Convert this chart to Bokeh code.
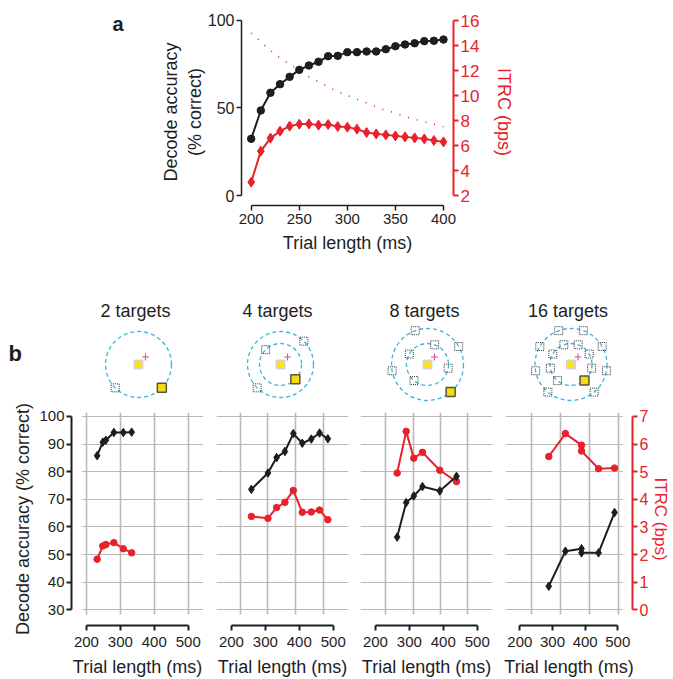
import math
from bokeh.plotting import figure
from bokeh.models import Range1d, LinearAxis, FixedTicker, BoxAnnotation
from bokeh.layouts import column, row
from bokeh.embed import file_html
from bokeh.resources import INLINE
from bokeh.core.properties import value

FONT = "Liberation Sans"
RED = "#e8212b"
INK = "#1e1e1e"
GRID = "#b9b9b9"
CYAN = "#36b6d8"

# ---------------- panel a data ----------------
a_trial_ms = [200, 210, 220, 230, 240, 250, 260, 270, 280, 290, 300,
              310, 320, 330, 340, 350, 360, 370, 380, 390, 400]
a_accuracy = [32.4, 48.6, 58.7, 63.6, 67.8, 71.8, 74.3, 76.4, 79.6, 79.8, 81.9,
              81.9, 82.3, 82.3, 83.6, 85.3, 86.3, 87.0, 88.2, 88.4, 89.1]
a_itrc = [3.07, 5.55, 6.59, 7.15, 7.55, 7.71, 7.73, 7.63, 7.68, 7.52, 7.47,
          7.31, 7.04, 6.93, 6.85, 6.77, 6.69, 6.61, 6.53, 6.40, 6.29]
a_itrc_bound = [15.0, 14.3, 13.6, 13.0, 12.5, 12.0, 11.5, 11.1, 10.7, 10.3, 10.0,
                9.7, 9.4, 9.1, 8.8, 8.6, 8.3, 8.1, 7.9, 7.7, 7.5]
a_ms_ticks = [200, 250, 300, 350, 400]
a_acc_ticks = [0, 50, 100]
a_itrc_ticks = [2, 4, 6, 8, 10, 12, 14, 16]

# ---------------- panel b data ----------------
b_titles = ["2 targets", "4 targets", "8 targets", "16 targets"]
b_trial_ms = [
    [231.6, 248.3, 257.2, 280.8, 308.7, 333.3],
    [258.8, 307.6, 333.2, 357.6, 382.4, 408.8, 435.3, 459.7, 484.1],
    [264.0, 290.6, 313.0, 338.6, 389.7, 438.9],
    [288.5, 339.5, 388.8, 388.8, 441.0, 490.0],
]
b_accuracy = [
    [85.8, 90.7, 91.4, 94.2, 94.2, 94.3],
    [73.6, 79.5, 85.1, 87.3, 93.8, 90.3, 91.8, 94.0, 91.9],
    [56.3, 68.8, 71.2, 74.6, 73.0, 78.3],
    [38.5, 51.2, 52.1, 50.6, 50.6, 65.2],
]
b_itrc = [
    [1.83, 2.31, 2.36, 2.43, 2.21, 2.06],
    [3.38, 3.31, 3.70, 3.89, 4.32, 3.53, 3.54, 3.61, 3.26],
    [4.95, 6.46, 5.49, 5.70, 5.05, 4.64],
    [5.55, 6.38, 5.96, 5.75, 5.11, 5.13],
]
b_ms_ticks = [200, 300, 400, 500]
b_acc_ticks = [30, 40, 50, 60, 70, 80, 90, 100]
b_itrc_ticks = [0, 1, 2, 3, 4, 5, 6, 7]

# target layouts (ring index, angle in degrees)
b_ring_radius = [[33], [33, 21], [36, 21], [36, 21]]
b_target_ring = [
    [0, 0],
    [0, 1, 0, 1],
    [0, 1, 0, 1, 0, 1, 0, 1],
    [0, 0, 0, 0, 0, 0, 0, 0, 1, 1, 1, 1, 1, 1, 1, 1],
]
b_target_angle = [
    [225, 315],
    [45, 135, 225, 315],
    [30, 70, 110, 150, 190, 230, 310, 350],
    [30, 70, 110, 150, 190, 230, 310, 350, 30, 70, 110, 150, 190, 230, 310, 350],
]
b_selected = [1, 3, 6, 14]


def style_axis(ax, color, width, tick_size, label_size="18px"):
    ax.axis_line_color = color
    ax.axis_line_width = width
    ax.major_tick_line_color = color
    ax.major_tick_line_width = width
    ax.major_tick_out = 5
    ax.major_tick_in = 0
    ax.minor_tick_line_color = None
    ax.major_label_text_color = color
    ax.major_label_text_font = FONT
    ax.major_label_text_font_size = tick_size
    ax.major_label_standoff = 2
    ax.axis_label_text_color = color
    ax.axis_label_text_font = FONT
    ax.axis_label_text_font_size = label_size
    ax.axis_label_text_font_style = "normal"
    ax.axis_label_standoff = 4


def blank(fig):
    fig.grid.visible = False
    fig.outline_line_color = None


# ================= panel a =================
# letter "a"
fa = figure(width=130, height=258, x_range=Range1d(0, 130), y_range=Range1d(205, 18),
            output_backend="svg", toolbar_location=None,
            min_border_left=0, min_border_right=0, min_border_top=18, min_border_bottom=53,
            x_axis_location=None, y_axis_location=None)
blank(fa)
fa.text(x=[112], y=[23], text=["a"], text_baseline="alphabetic", text_align="left",
        text_font=value(FONT), text_font_size="20px", text_font_style="bold", text_color=INK)

pa = figure(width=543, height=258,
            x_range=Range1d(189.9, 410.4), y_range=Range1d(-5.714, 101.14),
            output_backend="svg", toolbar_location=None,
            min_border_left=111, min_border_right=220,
            min_border_top=18, min_border_bottom=53)
pa.extra_y_ranges = {"itrc": Range1d(1.2, 16.16)}
blank(pa)

pa.xaxis.ticker = FixedTicker(ticks=a_ms_ticks)
pa.xaxis.bounds = (200, 400)
pa.xaxis.axis_label = "Trial length (ms)"
style_axis(pa.xaxis[0], INK, 1.5, "15px")
pa.xaxis.major_label_standoff = 3
pa.xaxis.axis_label_standoff = 6
pa.yaxis.ticker = FixedTicker(ticks=a_acc_ticks)
pa.yaxis.bounds = (0, 100)
pa.yaxis.axis_label = "Decode accuracy\n(% correct)"
style_axis(pa.yaxis[0], INK, 1.5, "16px")
pa.yaxis.axis_label_standoff = 0
ra = LinearAxis(y_range_name="itrc", ticker=FixedTicker(ticks=a_itrc_ticks),
                bounds=(2, 16), axis_label="ITRC (bps)")
style_axis(ra, RED, 2, "17px")
ra.axis_label_standoff = 12
pa.add_layout(ra, "right")

pa.line(a_trial_ms, a_itrc_bound, y_range_name="itrc", line_color=RED,
        line_width=1.6, line_dash="1 8")
pa.line(a_trial_ms, a_itrc, y_range_name="itrc", line_color=RED, line_width=2)
pa.scatter(a_trial_ms, a_itrc, y_range_name="itrc", marker="diamond", size=10,
           fill_color=RED, line_color=RED)
pa.line(a_trial_ms, a_accuracy, line_color=INK, line_width=2)
pa.scatter(a_trial_ms, a_accuracy, marker="circle", size=7.5,
           fill_color=INK, line_color=INK)

# ================= panel b =================
fig_w = [209, 145, 144, 175]
frame_left = [71, 7, 6, 7]
frame_w = 132
diag_cx = [138, 71, 73, 72.5]      # diagram centre, px from each figure's left edge
grid_ms = [[200, 300, 400, 500], [227, 307, 389, 472],
           [230, 311, 392, 472], [236, 324, 413, 501]]

diags, plots = [], []
for i in range(4):
    w = fig_w[i]
    cx = diag_cx[i]
    br = w - frame_left[i] - frame_w
    # ---- target diagram ----
    d = figure(width=w, height=144, x_range=Range1d(-cx, w - cx), y_range=Range1d(-38, 106),
               output_backend="svg", toolbar_location=None,
               min_border_left=0, min_border_right=0, min_border_top=0, min_border_bottom=0,
               x_axis_location=None, y_axis_location=None)
    blank(d)
    radii = b_ring_radius[i]
    d.circle(x=[0] * len(radii), y=[0] * len(radii), radius=radii, fill_color=None,
             line_color=CYAN, line_width=1.3, line_dash="4 3")
    tx, ty, sx, sy = [], [], [], []
    for k, (rg, ang) in enumerate(zip(b_target_ring[i], b_target_angle[i])):
        r = radii[rg]
        x = r * math.cos(math.radians(ang))
        y = r * math.sin(math.radians(ang))
        if k == b_selected[i]:
            sx.append(x); sy.append(y)
        else:
            tx.append(x); ty.append(y)
    d.scatter(tx, ty, marker="square", size=8, fill_color=None, line_color="#333333",
              line_width=1, line_dash="1 1")
    d.scatter(sx, sy, marker="square", size=9, fill_color="#f3dc12", line_color="#55553f",
              line_width=1.5)
    d.scatter([0], [0], marker="square", size=8, fill_color="#ffe500", line_color="#d4d4d4",
              line_width=2)
    d.scatter([7], [7.5], marker="cross", size=7, line_color="#d4579c", line_width=1.2)
    d.text(x=[-3], y=[54], text=[b_titles[i]], text_align="center",
           text_baseline="alphabetic", text_font=value(FONT), text_font_size="18px",
           text_color=INK)
    if i == 0:
        d.text(x=[8 - cx], y=[11], text=["b"], text_align="left", text_baseline="alphabetic",
               text_font=value(FONT), text_font_size="22px", text_font_style="bold",
               text_color=INK)
    diags.append(d)

    # ---- accuracy / ITRC plot ----
    p = figure(width=w, height=277, x_range=Range1d(156, 545), y_range=Range1d(24.29, 101.43),
               output_backend="svg", toolbar_location=None,
               min_border_left=frame_left[i], min_border_right=br,
               min_border_top=10, min_border_bottom=51,
               y_axis_location="left" if i == 0 else None)
    p.extra_y_ranges = {"itrc": Range1d(-0.571, 7.143)}
    p.outline_line_color = None
    p.xgrid.ticker = FixedTicker(ticks=grid_ms[i])
    p.xgrid.bounds = (156, 545)
    p.ygrid.ticker = FixedTicker(ticks=b_acc_ticks)
    p.ygrid.bounds = (30, 100)
    p.grid.grid_line_color = GRID
    p.xgrid.grid_line_width = 1.6
    p.ygrid.grid_line_width = 1.2

    # masks keeping the grid inside its own area
    p.add_layout(BoxAnnotation(top=28.3, fill_color="white", fill_alpha=1,
                               line_alpha=0, level="glyph"))
    if i == 0:
        p.add_layout(BoxAnnotation(right=187.6, fill_color="white", fill_alpha=1,
                                   line_alpha=0, level="glyph"))
    if i == 3:
        p.add_layout(BoxAnnotation(left=515.0, fill_color="white", fill_alpha=1,
                                   line_alpha=0, level="glyph"))

    p.xaxis.ticker = FixedTicker(ticks=b_ms_ticks)
    p.xaxis.bounds = (200, 500)
    p.xaxis.axis_label = "Trial length (ms)"
    style_axis(p.xaxis[0], INK, 2, "15px")
    p.xaxis.major_label_standoff = 6
    p.xaxis.axis_label_standoff = 7
    if i == 0:
        p.yaxis.ticker = FixedTicker(ticks=b_acc_ticks)
        p.yaxis.bounds = (30, 100)
        p.yaxis.axis_label = "Decode accuracy (% correct)"
        style_axis(p.yaxis[0], INK, 2, "15px")
        p.yaxis.axis_label_standoff = 3
    if i == 3:
        rb = LinearAxis(y_range_name="itrc", ticker=FixedTicker(ticks=b_itrc_ticks),
                        bounds=(0, 7), axis_label="ITRC (bps)")
        style_axis(rb, RED, 2, "16px", "17px")
        rb.major_label_standoff = 2
        rb.axis_label_standoff = 0
        p.add_layout(rb, "right")

    p.line(b_trial_ms[i], b_itrc[i], y_range_name="itrc", line_color=RED, line_width=2)
    p.scatter(b_trial_ms[i], b_itrc[i], y_range_name="itrc", marker="circle", size=6.5,
              fill_color=RED, line_color=RED)
    p.line(b_trial_ms[i], b_accuracy[i], line_color=INK, line_width=2)
    p.scatter(b_trial_ms[i], b_accuracy[i], marker="diamond", size=8.5,
              fill_color=INK, line_color=INK)
    plots.append(p)

layout = column(row(fa, pa), row(*diags), row(*plots))
open("out.html", "w").write(file_html(layout, INLINE))
